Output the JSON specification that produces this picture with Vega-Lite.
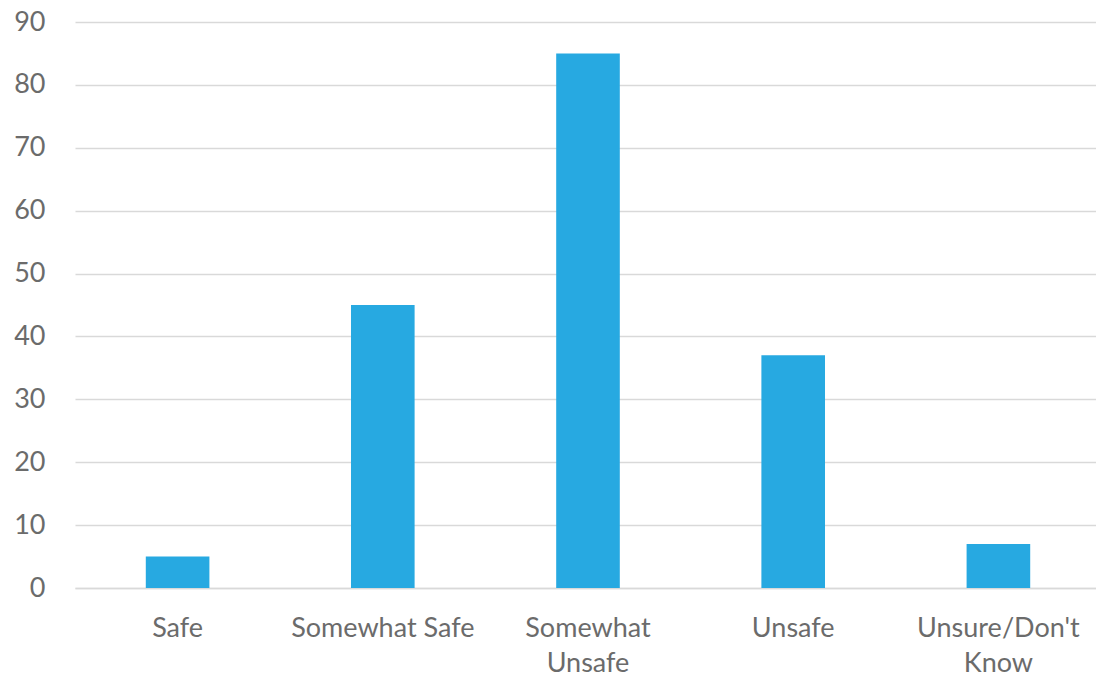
{
  "$schema": "https://vega.github.io/schema/vega-lite/v6.json",
  "width": 1026,
  "height": 566,
  "autosize": {"type": "none"},
  "padding": {"left": 75, "top": 22, "right": 0, "bottom": 92},
  "background": "white",
  "data": {
    "values": [
      {"category": "Safe", "value": 5},
      {"category": "Somewhat Safe", "value": 45},
      {"category": "Somewhat Unsafe", "value": 85},
      {"category": "Unsafe", "value": 37},
      {"category": "Unsure/Don't Know", "value": 7}
    ]
  },
  "mark": {"type": "bar", "color": "#27A9E1"},
  "encoding": {
    "x": {
      "field": "category",
      "type": "nominal",
      "sort": null,
      "title": null,
      "scale": {"paddingInner": 0.69, "paddingOuter": 0.345},
      "axis": {
        "labelAngle": 0,
        "labelFont": "Lato",
        "labelFontSize": 27,
        "labelColor": "#6b6b6b",
        "labelPadding": 27,
        "labelLineHeight": 35,
        "labelLimit": 400,
        "ticks": false,
        "domainColor": "#d9d9d9",
        "domainWidth": 1.5,
        "labelExpr": "datum.value == 'Somewhat Unsafe' ? ['Somewhat', 'Unsafe'] : datum.value == \"Unsure/Don't Know\" ? [\"Unsure/Don't\", 'Know'] : datum.value"
      }
    },
    "y": {
      "field": "value",
      "type": "quantitative",
      "title": null,
      "scale": {"domain": [0, 90]},
      "axis": {
        "values": [0, 10, 20, 30, 40, 50, 60, 70, 80, 90],
        "labelFont": "Lato",
        "labelFontSize": 27,
        "labelColor": "#6b6b6b",
        "labelPadding": 30,
        "ticks": false,
        "domain": false,
        "gridColor": "#d9d9d9",
        "gridWidth": 1.5
      }
    }
  },
  "config": {"view": {"stroke": null}}
}
